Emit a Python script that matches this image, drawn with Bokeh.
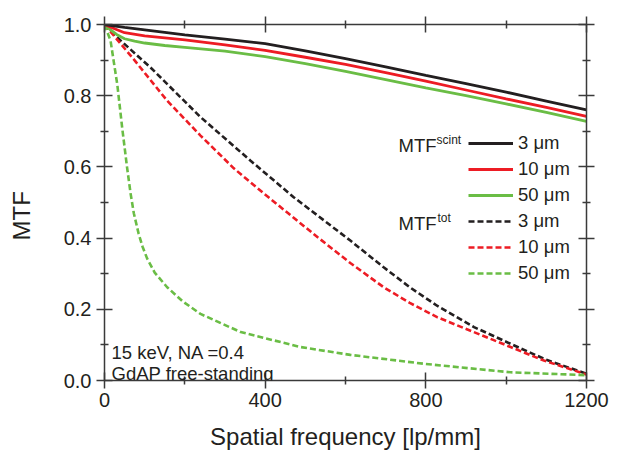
from bokeh.plotting import figure
from bokeh.models import (Range1d, LinearAxis, FixedTicker, Legend, LegendItem, Label,
                          PrintfTickFormatter, CustomLabelingPolicy)
from bokeh.embed import file_html
from bokeh.resources import INLINE

# ---------------- data ----------------
x_ticks = [0, 400, 800, 1200]
x_minor = [200, 600, 1000]
y_ticks = [0.0, 0.2, 0.4, 0.6, 0.8, 1.0]
y_minor = [0.1, 0.3, 0.5, 0.7, 0.9]

legend_labels = ["3 μm", "10 μm", "50 μm"]

# MTF_scint (solid)
scint_3_x = [0, 50, 100, 200, 300, 400, 500, 600, 700, 800, 900, 1000, 1100, 1200]
scint_3_y = [1.0, 0.992, 0.985, 0.971, 0.959, 0.946, 0.926, 0.904, 0.881, 0.857, 0.834, 0.81, 0.785, 0.76]

scint_10_x = [0, 25, 50, 100, 200, 300, 400, 500, 600, 700, 800, 900, 1000, 1100, 1200]
scint_10_y = [1.0, 0.988, 0.977, 0.968, 0.957, 0.943, 0.927, 0.908, 0.888, 0.865, 0.841, 0.816, 0.791, 0.767, 0.742]

scint_50_x = [0, 15, 30, 50, 75, 100, 150, 200, 300, 400, 500, 600, 700, 800, 900, 1000, 1100, 1200]
scint_50_y = [1.0, 0.985, 0.972, 0.96, 0.953, 0.948, 0.941, 0.936, 0.925, 0.91, 0.89, 0.868, 0.845, 0.822, 0.8, 0.777, 0.753, 0.728]

# MTF_tot (dashed)
tot_3_x = [0, 20, 40, 114, 239, 363, 471, 612, 695, 760, 828, 920, 1011, 1100, 1200]
tot_3_y = [1.0, 0.976, 0.955, 0.88, 0.74, 0.618, 0.515, 0.393, 0.318, 0.262, 0.21, 0.15, 0.103, 0.058, 0.019]

tot_10_x = [0, 23, 73, 156, 239, 322, 397, 530, 612, 695, 760, 828, 1011, 1094, 1200]
tot_10_y = [1.0, 0.969, 0.902, 0.786, 0.688, 0.596, 0.525, 0.403, 0.33, 0.262, 0.218, 0.178, 0.094, 0.056, 0.017]

tot_50_x = [0, 15, 32, 44, 56, 65, 73, 85, 95, 106, 125, 156, 195, 239, 339, 488, 612, 795, 1011, 1200]
tot_50_y = [1.0, 0.955, 0.83, 0.71, 0.60, 0.525, 0.47, 0.412, 0.375, 0.343, 0.303, 0.262, 0.222, 0.187, 0.136, 0.094, 0.072, 0.047, 0.023, 0.015]

# ---------------- styling ----------------
BLACK = "#231f20"
RED = "#ed1c24"
GREEN = "#6abd45"
AX = "#3a3a3a"
TXT = "#231f20"
FONT = "Liberation Sans"

p = figure(width=617, height=454, output_backend="svg", toolbar_location=None,
           x_range=Range1d(0, 1200), y_range=Range1d(0, 1.0),
           min_border_left=104, min_border_right=31, min_border_top=24, min_border_bottom=74)
p.grid.visible = False
p.outline_line_color = None
p.background_fill_color = "white"
p.border_fill_color = "white"

xt = FixedTicker(ticks=x_ticks, minor_ticks=x_minor)
yt = FixedTicker(ticks=y_ticks, minor_ticks=y_minor)


def style(ax, ticker, labels=True):
    ax.ticker = ticker
    ax.axis_line_color = AX
    ax.axis_line_width = 1.5
    ax.major_tick_line_color = AX
    ax.major_tick_line_width = 1.5
    ax.minor_tick_line_color = AX
    ax.minor_tick_line_width = 1.5
    ax.major_tick_in = 8
    ax.major_tick_out = 8
    ax.minor_tick_in = 4
    ax.minor_tick_out = 4
    ax.major_label_text_font = FONT
    ax.major_label_text_font_size = "20px"
    ax.major_label_text_color = TXT
    ax.major_label_standoff = 4
    ax.axis_label_text_font = FONT
    ax.axis_label_text_font_size = "24px"
    ax.axis_label_text_font_style = "normal"
    ax.axis_label_text_color = TXT
    if not labels:
        ax.major_label_text_font_size = "1px"
        ax.major_label_standoff = 0
        ax.major_label_policy = CustomLabelingPolicy(code="return []")


xa = p.xaxis[0]
ya = p.yaxis[0]
style(xa, xt)
style(ya, yt)
ya.formatter = PrintfTickFormatter(format="%.1f")
ya.major_label_standoff = 5
xa.axis_label = "Spatial frequency [lp/mm]"
xa.axis_label_standoff = 13
ya.axis_label = "MTF\u2007\u2007"
ya.axis_label_standoff = 26

top = LinearAxis()
style(top, xt, labels=False)
p.add_layout(top, "above")
right = LinearAxis()
style(right, yt, labels=False)
p.add_layout(right, "right")

DASH = "6 3"
r_t3 = p.line(tot_3_x, tot_3_y, line_color=BLACK, line_width=2.6, line_dash=DASH)
r_t10 = p.line(tot_10_x, tot_10_y, line_color=RED, line_width=2.6, line_dash=DASH)
r_t50 = p.line(tot_50_x, tot_50_y, line_color=GREEN, line_width=2.6, line_dash=DASH)
r_s50 = p.line(scint_50_x, scint_50_y, line_color=GREEN, line_width=2.8)
r_s10 = p.line(scint_10_x, scint_10_y, line_color=RED, line_width=2.8)
r_s3 = p.line(scint_3_x, scint_3_y, line_color=BLACK, line_width=2.8)

items = [
    LegendItem(label=legend_labels[0], renderers=[r_s3]),
    LegendItem(label=legend_labels[1], renderers=[r_s10]),
    LegendItem(label=legend_labels[2], renderers=[r_s50]),
    LegendItem(label=legend_labels[0], renderers=[r_t3]),
    LegendItem(label=legend_labels[1], renderers=[r_t10]),
    LegendItem(label=legend_labels[2], renderers=[r_t50]),
]
legend = Legend(items=items, location=(364, 96), glyph_width=45, glyph_height=20,
                label_height=20, label_standoff=5, spacing=4, padding=0, margin=0,
                border_line_alpha=0, background_fill_alpha=0,
                label_text_font=FONT, label_text_font_size="18.5px",
                label_text_color=TXT)
p.add_layout(legend)


def lab(x, y, text, size, **kw):
    p.add_layout(Label(x=x, y=y, x_units="screen", y_units="screen", text=text,
                       text_font=FONT, text_font_size=size, text_color=TXT, **kw))


# legend headings with superscripts
lab(294, 235, "MTF", "18.5px", text_baseline="middle")
lab(332, 241, "scint", "12px", text_baseline="middle")
lab(294, 157, "MTF", "18.5px", text_baseline="middle")
lab(333, 163, "tot", "12px", text_baseline="middle")

# annotation text
lab(7, 28, "15 keV, NA =0.4", "18.5px", text_baseline="alphabetic")
lab(7, 7, "GdAP free-standing", "18.5px", text_baseline="alphabetic")

open("out.html", "w").write(file_html(p, INLINE))
